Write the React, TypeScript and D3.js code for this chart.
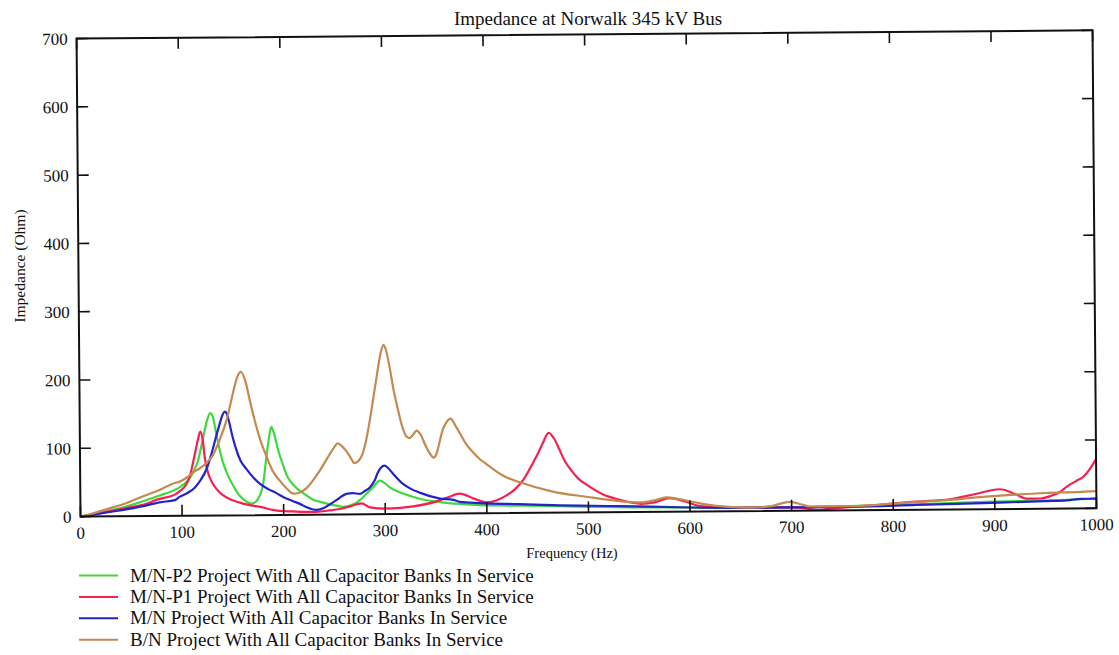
import React from "react";
import * as d3 from "d3";

const W = 1119;
const H = 655;

const titleText = "Impedance at Norwalk 345 kV Bus";
const xLabel = "Frequency (Hz)";
const yLabel = "Impedance (Ohm)";
const xTicks = [0, 100, 200, 300, 400, 500, 600, 700, 800, 900, 1000];
const yTicks = [0, 100, 200, 300, 400, 500, 600, 700];

// M/N-P2 (green)
const greenF = [0, 11, 27, 45, 60, 78, 93, 98, 105, 111, 116, 121, 125, 128.5, 131, 134, 137, 140.6, 145, 150.4, 155, 160, 168.5, 173, 176.7, 180, 183, 186, 188.5, 191, 194.7, 200, 203, 208, 213, 220, 229, 238, 245.6, 252, 258.7, 265, 271.8, 276, 281.7, 288, 294.8, 300, 304.6, 317.7, 334, 354, 373.5, 393, 420, 460, 500, 540, 600, 650, 700, 750, 800, 850, 900, 950, 1000];
const greenZ = [0, 3, 8, 14, 21, 30, 38, 42, 50, 63, 80, 112, 138, 150, 145, 122, 100, 78, 60, 44, 32, 24, 17, 20, 29, 45, 80, 112, 129, 120, 97, 72, 59, 47, 39, 31, 22, 18, 15, 13, 11, 13, 17, 22, 30, 39, 49, 45, 39, 30, 22, 17, 14, 12, 11, 10, 8, 7, 6, 5, 5, 6, 7, 9, 11, 12, 14];

// M/N-P1 (red)
const redF = [0, 11, 27, 45, 60, 78, 93, 98, 104, 108, 112.7, 116, 118.5, 121, 122.5, 125.8, 130, 134, 140, 150, 160, 176.7, 196, 209, 229, 245, 255, 266, 276.7, 285, 300, 315, 327.5, 350.6, 362, 373.5, 386.6, 400, 410, 419.5, 428, 435.8, 442, 449, 455, 461.4, 467, 472, 477, 481.8, 490, 498, 514.6, 531, 552, 565, 580, 595, 610, 630, 660, 700, 715, 725, 740, 780, 823, 856, 880, 905, 920, 931, 945, 954, 965, 971, 980, 987, 993, 1000];
const redZ = [0, 3, 7, 12, 16, 25, 31, 36, 45, 58, 88, 110, 123, 110, 88, 63, 48, 39, 30, 22, 17, 12, 6, 5, 4, 6, 8, 12, 16, 10, 8, 9, 11, 18, 24, 29, 22, 16, 19, 26, 35, 48, 63, 82, 100, 117, 108, 92, 76, 65, 50, 41, 26, 18, 12, 14, 20, 15, 8, 6, 5, 5, 3, 1, 3, 7, 12, 15, 22, 29, 22, 15, 15, 18, 25, 32, 40, 46, 56, 72];

// M/N (blue)
const blueF = [0, 11, 27, 45, 60, 78, 93, 98, 105, 112.7, 117.6, 125, 130.7, 134, 137.3, 140, 143, 145, 147, 150, 153.7, 158, 163.6, 170, 176.7, 185, 193, 200, 209.5, 216, 222.6, 232.5, 240, 245.6, 252, 262, 268, 275, 280, 285, 290, 293, 296, 299.7, 304, 308, 317.7, 325, 334, 354, 367, 373.5, 393, 432, 465, 531, 600, 650, 700, 758, 823, 888, 950, 971, 985, 1000];
const blueZ = [0, 2, 6, 10, 14, 20, 23, 28, 33, 41, 50, 70, 97, 115, 132, 145, 152, 148, 137, 117, 97, 80, 68, 56, 46, 38, 32, 26, 20, 16, 11, 7, 10, 15, 21, 30, 31, 30, 34, 39, 50, 61, 68, 71, 66, 59, 44, 37, 31, 22, 20, 17, 15, 13, 11, 9, 6, 5, 5, 5, 7, 9, 11, 12, 14, 14];

// B/N (brown)
const brownF = [0, 11, 27, 45, 60, 78, 93, 98, 105, 112.7, 117.6, 125, 130.7, 136, 140, 144, 148, 152, 155.5, 159, 163.6, 168, 173.4, 178, 183, 189, 196, 203, 209.5, 215, 222.6, 229, 235.7, 245.6, 250, 253.7, 257, 262, 266, 270, 274, 278, 282, 286.6, 290, 293, 296.5, 299.7, 302, 306, 309, 312.8, 317, 321, 324.5, 328, 331.5, 335, 340.7, 344, 348, 351, 354, 357, 361, 365, 370, 375, 380, 386.6, 393, 400, 416, 432.6, 465, 498, 531, 552, 565, 577, 590, 610, 626, 659, 680, 690, 699, 710, 718, 740, 758, 807, 856, 888, 921, 950, 980, 1000];
const brownZ = [0, 4, 11, 19, 28, 38, 48, 50, 56, 65, 69, 78, 88, 105, 120, 137, 160, 185, 203, 210, 195, 165, 132, 108, 88, 66, 51, 39, 31, 32, 39, 50, 64, 88, 98, 104, 101, 93, 84, 75, 78, 88, 110, 147, 178, 205, 235, 248, 240, 210, 183, 156, 130, 114, 111, 116, 122, 117, 98, 89, 82, 88, 105, 122, 134, 139, 128, 115, 102, 90, 80, 72, 55, 45, 31, 23, 16, 14, 17, 21, 18, 12, 8, 5, 7, 11, 13, 9, 6, 6, 6, 10, 14, 18, 21, 23, 24, 25];

const seriesNames = [
  "M/N-P2 Project With All Capacitor Banks In Service",
  "M/N-P1 Project With All Capacitor Banks In Service",
  "M/N Project With All Capacitor Banks In Service",
  "B/N Project With All Capacitor Banks In Service",
];
const seriesColors = ["#3fd83f", "#f5204e", "#2323cc", "#c4894e"];
const seriesF = [greenF, redF, blueF, brownF];
const seriesZ = [greenZ, redZ, blueZ, brownZ];

export default function App() {
  const left = 80.5;
  const bottom = 516.6;
  const plotW = 1016;
  const plotH = 478;
  const x = d3.scaleLinear().domain([0, 1000]).range([left, left + plotW]);
  const y = d3.scaleLinear().domain([0, 700]).range([bottom, bottom - plotH]);
  const line = d3
    .line<[number, number]>()
    .x((d) => x(d[0]))
    .y((d) => y(d[1]))
    .curve(d3.curveMonotoneX);

  const font = "'Liberation Serif', 'DejaVu Serif', serif";
  const top = bottom - plotH;
  const right = left + plotW;

  return (
    <svg
      width={W}
      height={H}
      style={{ position: "absolute", left: 0, top: 0, background: "#fff" }}
      fontFamily={font}
    >
      <rect x={0} y={0} width={W} height={H} fill="#fff" />
      <text x={588} y={25} textAnchor="middle" fontSize={19} fill="#111">
        {titleText}
      </text>
      <g transform={`rotate(-0.47 ${left} ${bottom})`}>
        {seriesF.map((fs, i) => {
          const pts: [number, number][] = fs.map((f, j) => [f, seriesZ[i][j]]);
          return (
            <path
              key={i}
              d={line(pts) || ""}
              fill="none"
              stroke={seriesColors[i]}
              strokeWidth={2.2}
              strokeLinejoin="round"
            />
          );
        })}
        <rect
          x={left}
          y={top}
          width={plotW}
          height={plotH}
          fill="none"
          stroke="#111"
          strokeWidth={2}
        />
        {xTicks.map((t) => (
          <g key={"x" + t}>
            <line x1={x(t)} x2={x(t)} y1={bottom} y2={bottom - 11} stroke="#111" strokeWidth={1.6} />
            <line x1={x(t)} x2={x(t)} y1={top} y2={top + 11} stroke="#111" strokeWidth={1.6} />
            <text x={x(t)} y={bottom + 22} textAnchor="middle" fontSize={17} fill="#111">
              {t}
            </text>
          </g>
        ))}
        {yTicks.map((t) => (
          <g key={"y" + t}>
            <line x1={left} x2={left + 11} y1={y(t)} y2={y(t)} stroke="#111" strokeWidth={1.6} />
            <line x1={right} x2={right - 11} y1={y(t)} y2={y(t)} stroke="#111" strokeWidth={1.6} />
            <text x={left - 9} y={y(t) + 6} textAnchor="end" fontSize={17} fill="#111">
              {t}
            </text>
          </g>
        ))}
      </g>
      <text x={572} y={558} textAnchor="middle" fontSize={14.5} fill="#111">
        {xLabel}
      </text>
      <text
        transform={`translate(25 ${266}) rotate(-90)`}
        textAnchor="middle"
        fontSize={15.5}
        fill="#111"
      >
        {yLabel}
      </text>
      {seriesNames.map((name, i) => {
        const ly = 575.5 + i * 21.4;
        return (
          <g key={name}>
            <line x1={79} x2={118} y1={ly} y2={ly} stroke={seriesColors[i]} strokeWidth={2} />
            <text x={130} y={ly + 6} fontSize={19} fill="#111">
              {name}
            </text>
          </g>
        );
      })}
    </svg>
  );
}
